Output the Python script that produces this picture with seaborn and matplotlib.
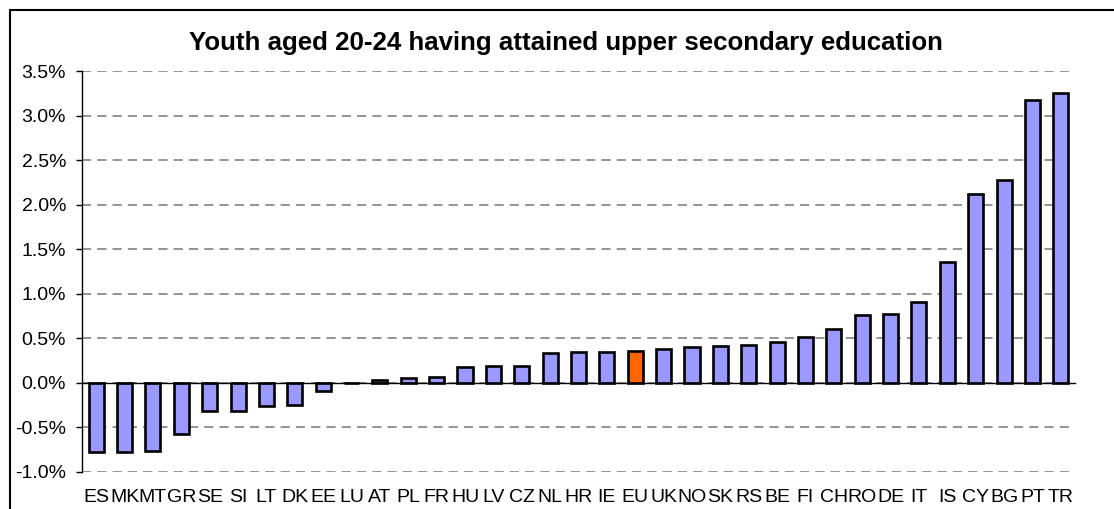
import numpy as np
import pandas as pd
import matplotlib
matplotlib.use("Agg")
import matplotlib.pyplot as plt
import seaborn as sns
from matplotlib.ticker import FuncFormatter, FixedLocator
from matplotlib.patches import Rectangle

# ---- data ----
countries = ["ES", "MK", "MT", "GR", "SE", "SI", "LT", "DK", "EE", "LU",
             "AT", "PL", "FR", "HU", "LV", "CZ", "NL", "HR", "IE", "EU",
             "UK", "NO", "SK", "RS", "BE", "FI", "CH", "RO", "DE", "IT",
             "IS", "CY", "BG", "PT", "TR"]
values = [-0.78, -0.78, -0.76, -0.57, -0.32, -0.31, -0.26, -0.25, -0.09, 0.0,
          0.03, 0.06, 0.065, 0.18, 0.19, 0.195, 0.33, 0.345, 0.35, 0.355,
          0.38, 0.40, 0.41, 0.42, 0.46, 0.51, 0.61, 0.76, 0.77, 0.91,
          1.355, 2.115, 2.275, 3.17, 3.25]
highlight = "EU"
title = "Youth aged 20-24 having attained upper secondary education"
y_ticks = [-1.0, -0.5, 0.0, 0.5, 1.0, 1.5, 2.0, 2.5, 3.0, 3.5]

sns.set_style("white")
plt.rcParams["font.family"] = ["Liberation Sans", "DejaVu Sans"]
plt.rcParams["text.color"] = "black"
plt.rcParams["xtick.color"] = "black"
plt.rcParams["ytick.color"] = "black"
plt.rcParams["xtick.labelcolor"] = "black"
plt.rcParams["ytick.labelcolor"] = "black"

W, H = 1114, 509
fig = plt.figure(figsize=(W / 100, H / 100), dpi=100)
ax = fig.add_axes([82 / W, 1 - 472 / H, (1075 - 82) / W, (472 - 71) / H])

df = pd.DataFrame({"country": countries, "value": values})
palette = {c: ("#FF6600" if c == highlight else "#9999FF") for c in countries}
sns.barplot(data=df, x="country", y="value", hue="country", order=countries,
            palette=palette, saturation=1, width=0.53, edgecolor="black",
            linewidth=1.9, legend=False, ax=ax)

ax.set_xlim(-0.5, len(countries) - 0.5)
ax.set_ylim(y_ticks[0], y_ticks[-1])
ax.set_xlabel("")
ax.set_ylabel("")

ax.yaxis.set_major_locator(FixedLocator(y_ticks))
ax.yaxis.set_major_formatter(FuncFormatter(lambda v, p: f"{v:.1f}%"))
ax.yaxis.grid(True, color="#777777", linestyle=(0, (6, 4)), linewidth=1.1)
ax.xaxis.grid(False)
ax.set_axisbelow(True)

for s in ["top", "right"]:
    ax.spines[s].set_visible(False)
ax.spines["left"].set_color("black")
ax.spines["left"].set_linewidth(1.0)
ax.spines["bottom"].set_position(("data", 0))
ax.spines["bottom"].set_color("black")
ax.spines["bottom"].set_linewidth(1.0)

# boundary tick marks on the zero line
ax.set_xticks(np.arange(-0.5, len(countries), 1.0))
ax.set_xticklabels([])
ax.tick_params(axis="x", direction="out", length=4.5, width=1.0, color="black")
ax.tick_params(axis="y", direction="out", length=4.5, width=1.0, color="black",
               labelcolor="black", labelsize=14, pad=7, left=True)

# category labels at the bottom of the plot area
sec = ax.secondary_xaxis("bottom")
sec.set_xticks(range(len(countries)))
sec.set_xticklabels(countries)
sec.tick_params(length=0, pad=12, labelsize=14, labelcolor="black")
sec.spines["bottom"].set_visible(False)

fig.text(566 / W, 1 - 43 / H, title, ha="center", va="center",
         fontsize=18.6, fontweight="bold", color="black")

fig.patches.append(Rectangle((10 / W, -0.2), 1.5, 1.2 - 10 / H,
                             transform=fig.transFigure, fill=False,
                             edgecolor="black", linewidth=1.5))

fig.savefig("out.png", dpi=100)
